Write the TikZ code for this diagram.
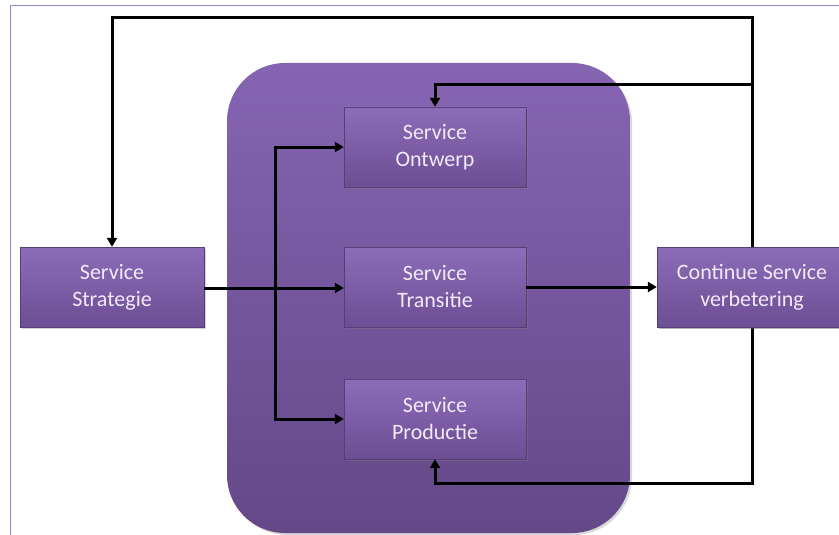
\documentclass[tikz,border=0pt]{standalone}
\usepackage{fontspec}
\setmainfont{Carlito}
\usetikzlibrary{arrows.meta,shadows}
\definecolor{frameline}{HTML}{9C82C8}
\definecolor{boxtop}{HTML}{8C6CB8}
\definecolor{boxbot}{HTML}{6C4E94}
\definecolor{contop}{HTML}{8664B2}
\definecolor{conbot}{HTML}{644888}
\definecolor{labeltext}{HTML}{F2EAF8}
\tikzset{
  stagebox/.style={minimum width=182pt, minimum height=80pt, inner sep=0pt,
    top color=boxtop, bottom color=boxbot, draw=boxbot!80!black, line width=0.4pt,
    text=labeltext, font=\fontsize{22}{27}\selectfont, align=center,
    drop shadow={shadow xshift=1.5pt, shadow yshift=-1.5pt, opacity=0.35}},
  container/.style={rounded corners=58pt, top color=contop, bottom color=conbot,
    draw=none, drop shadow={shadow xshift=2pt, shadow yshift=-2pt, opacity=0.3}},
  flow/.style={line width=3pt, black, line join=miter,
    -{Triangle[length=9pt,width=10pt]}},
}
\begin{document}
\begin{tikzpicture}[x=1pt,y=-1pt]
  \useasboundingbox (0,0) rectangle (839,535);
  \fill[white] (0,0) rectangle (839,535);
  % page frame
  \draw[frameline, line width=1pt] (10,540) -- (10,6) -- (845,6);
  % grouping panel
  \node[container, minimum width=403pt, minimum height=470pt] (panel) at (428.5,298) {};
  % stages
  \node[stagebox, minimum width=184pt] (strat) at (112,287) {Service\\Strategie};
  \node[stagebox] (ontw)  at (435,147) {Service\\Ontwerp};
  \node[stagebox] (trans) at (435,287) {Service\\Transitie};
  \node[stagebox] (prod)  at (435,419) {Service\\Productie};
  \node[stagebox, minimum width=190pt] (csv) at (752,287) {Continue Service\\verbetering};
  % routing coordinates
  \coordinate (split) at (275,288);
  \coordinate (topy) at (0,18);
  \coordinate (midy) at (0,85);
  \coordinate (boty) at (0,483);
  % main flow
  \draw[flow] (strat.east |- split) -- (trans.west |- split);
  \draw[flow] (split) |- (ontw.west);
  \draw[flow] (split) |- (prod.west);
  \draw[flow] (trans.east) -- (csv.west);
  % feedback loops
  \draw[flow] (csv.north) -- (csv.north |- topy) -| (strat.north);
  \draw[flow] (csv.north |- midy) -| (ontw.north);
  \draw[flow] (csv.south) -- (csv.south |- boty) -| (prod.south);
  % CSV box drawn again so the loop line passes behind it
  \node[stagebox, minimum width=190pt] at (csv) {Continue Service\\verbetering};
\end{tikzpicture}
\end{document}
